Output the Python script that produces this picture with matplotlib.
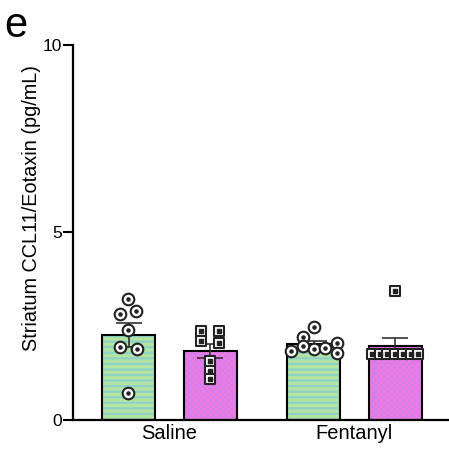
import numpy as np
import matplotlib
matplotlib.use("Agg")
import matplotlib.pyplot as plt
from matplotlib.colors import ListedColormap

plt.rcParams['font.family'] = ['Liberation Sans', 'DejaVu Sans']
plt.rcParams['hatch.linewidth'] = 1.6

groups = ["Saline", "Fentanyl"]
green_vals = [
    [3.22, 2.83, 2.91, 2.40, 1.94, 1.88, 0.73],
    [2.47, 2.22, 1.97, 1.84, 1.90, 1.91, 2.04, 1.79],
]
magenta_vals = [
    [2.38, 2.38, 2.11, 2.04, 1.56, 1.31, 1.08],
    [3.44, 1.76, 1.76, 1.76, 1.76, 1.76, 1.76, 1.76],
]
# horizontal jitter of points (pixels)
green_jit = [
    [-1, -9, 7.5, -1, -9, 8, -1],
    [0, -11, -11, -23, 0, 11.5, 23, 23],
]
magenta_jit = [
    [-9, 8.7, -9, 8.7, 0, 0, 0],
    [0, -23, -15.5, -7.8, 0, 7.8, 15.5, 23],
]
yticks = [0, 5, 10]
ylabel = "Striatum CCL11/Eotaxin (pg/mL)"

fig = plt.figure(figsize=(4.49, 4.49), dpi=100)
ax = fig.add_axes([0.1626, 0.0646, 0.8374, 0.8352])
XL = (-0.522, 1.511)
ax.set_xlim(*XL)
ax.set_ylim(0, 10)

px = 1 / 185.0
off = 0.22
bw = 0.287
green_c = '#b4e3a2'
stripe_c = '#8dd4c6'
mag_c = '#f47ad9'
mag_alt = '#d07ff2'

ny, nx = 125, 125
yy, xx = np.mgrid[0:ny, 0:nx]
check = ((xx + yy) % 2).astype(float)
cmap = ListedColormap([mag_c, mag_alt])

def sem(v):
    v = np.asarray(v)
    return v.std(ddof=1) / np.sqrt(len(v))

for i, g in enumerate(groups):
    gv = np.array(green_vals[i])
    xg = i - off
    ax.bar(xg, gv.mean(), width=bw, color=green_c, edgecolor=stripe_c,
           hatch='---', linewidth=0, zorder=2)
    ax.bar(xg, gv.mean(), width=bw, facecolor='none', edgecolor='black',
           linewidth=1.5, zorder=3)
    ax.errorbar(xg, gv.mean(), yerr=sem(gv), color='#333333', lw=1.2,
                capsize=9.5, capthick=1.2, zorder=4)
    xs = xg + np.array(green_jit[i]) * px
    ax.scatter(xs, gv, s=70, marker='o', facecolor='white', edgecolor='#222222',
               linewidths=1.5, zorder=5)
    ax.scatter(xs, gv, s=5, marker='o', color='#222222', zorder=6)

    mv = np.array(magenta_vals[i])
    xm = i + off
    bm = ax.bar(xm, mv.mean(), width=bw, color=mag_c, linewidth=0, zorder=2)
    im = ax.imshow(check, cmap=cmap, extent=[XL[0], XL[1], 0, 10],
                   interpolation='nearest', aspect='auto', zorder=2.5)
    im.set_clip_path(bm.patches[0])
    ax.bar(xm, mv.mean(), width=bw, facecolor='none', edgecolor='black',
           linewidth=1.5, zorder=3)
    ax.errorbar(xm, mv.mean(), yerr=sem(mv), color='#333333', lw=1.2,
                capsize=9.5, capthick=1.2, zorder=4)
    xs = xm + np.array(magenta_jit[i]) * px
    ax.scatter(xs, mv, s=60, marker='s', facecolor='white', edgecolor='#222222',
               linewidths=1.5, zorder=5)
    ax.scatter(xs, mv, s=5, marker='s', color='#222222', zorder=6)

ax.set_xlim(*XL)
ax.set_ylim(0, 10)
ax.set_yticks(yticks)
ax.set_yticklabels([str(t) for t in yticks], fontsize=12.5)
ax.set_xticks(range(len(groups)))
ax.set_xticklabels(groups, fontsize=14.5)
ax.tick_params(axis='x', length=0, pad=3)
ax.tick_params(axis='y', length=7, width=1.5, pad=1)
ax.set_ylabel(ylabel, fontsize=14.3, va='center')
ax.yaxis.set_label_coords(-0.11, 0.564)
for s in ['top', 'right']:
    ax.spines[s].set_visible(False)
for s in ['left', 'bottom']:
    ax.spines[s].set_linewidth(1.6)

fig.text(0.01, 0.918, 'e', fontsize=30, va='baseline', ha='left')

fig.savefig('out.png', dpi=100)
